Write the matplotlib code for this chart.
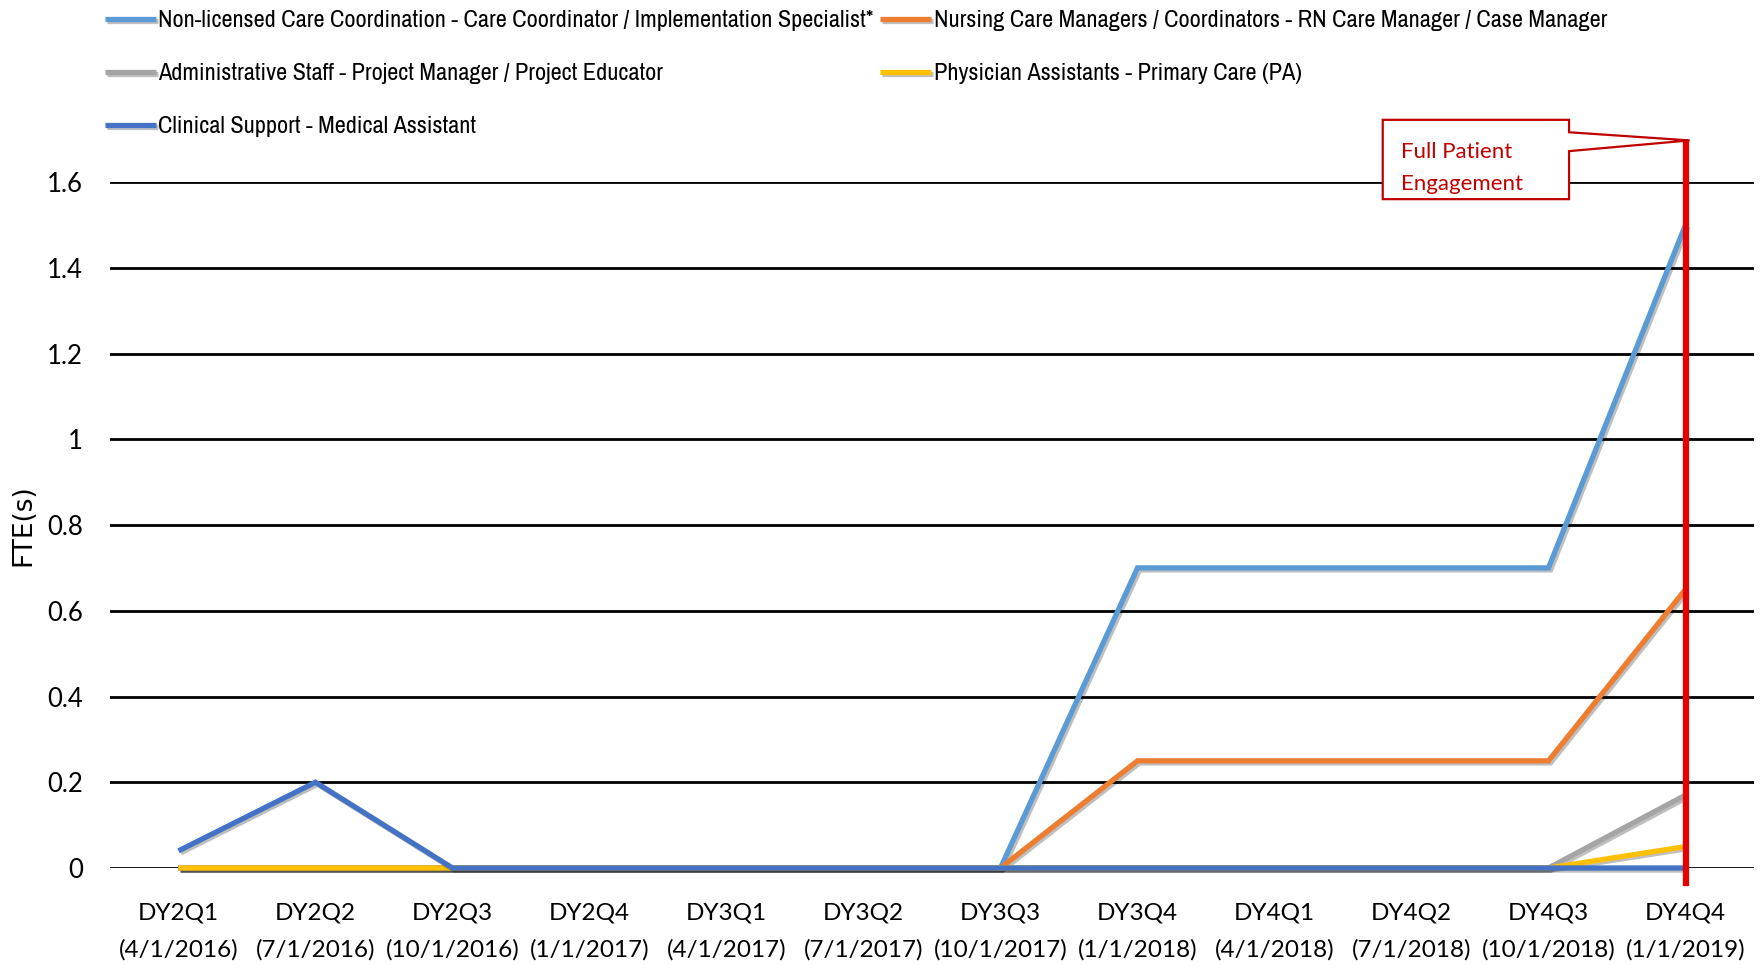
import matplotlib
matplotlib.use('Agg')
import matplotlib.pyplot as plt
import matplotlib.patheffects as pe
from matplotlib import font_manager
from matplotlib.patches import Polygon

quarters = ['DY2Q1', 'DY2Q2', 'DY2Q3', 'DY2Q4', 'DY3Q1', 'DY3Q2',
            'DY3Q3', 'DY3Q4', 'DY4Q1', 'DY4Q2', 'DY4Q3', 'DY4Q4']
dates = ['(4/1/2016)', '(7/1/2016)', '(10/1/2016)', '(1/1/2017)', '(4/1/2017)', '(7/1/2017)',
         '(10/1/2017)', '(1/1/2018)', '(4/1/2018)', '(7/1/2018)', '(10/1/2018)', '(1/1/2019)']

non_licensed = [0, 0, 0, 0, 0, 0, 0, 0.7, 0.7, 0.7, 0.7, 1.5]
nursing = [0, 0, 0, 0, 0, 0, 0, 0.25, 0.25, 0.25, 0.25, 0.65]
admin = [0, 0, 0, 0, 0, 0, 0, 0, 0, 0, 0, 0.17]
physician = [0, 0, 0, 0, 0, 0, 0, 0, 0, 0, 0, 0.05]
clinical = [0.04, 0.2, 0, 0, 0, 0, 0, 0, 0, 0, 0, 0]

series = [
    ('Non-licensed Care Coordination - Care Coordinator / Implementation Specialist*', non_licensed, '#5B9BD5'),
    ('Nursing Care Managers / Coordinators - RN Care Manager / Case Manager', nursing, '#ED7D31'),
    ('Administrative Staff - Project Manager / Project Educator', admin, '#A5A5A5'),
    ('Physician Assistants - Primary Care (PA)', physician, '#FFC000'),
    ('Clinical Support - Medical Assistant', clinical, '#4472C4'),
]


def is_plain(f):
    return f.style == 'normal' and f.weight in (400, 'normal', 'regular')


# look for an upright narrow face for the legend (Calibri-like look)
narrow = None
for f in font_manager.fontManager.ttflist:
    if ('Narrow' in f.name or 'Condensed' in f.name) and is_plain(f) \
            and 'Italic' not in f.fname and 'Oblique' not in f.fname:
        narrow = font_manager.FontProperties(fname=f.fname)
        break
if narrow is None:
    for f in font_manager.fontManager.ttflist:
        if f.stretch in ('condensed', 'semi-condensed', 'extra-condensed') and is_plain(f) \
                and 'Italic' not in f.fname and 'Oblique' not in f.fname:
            narrow = font_manager.FontProperties(fname=f.fname)
            break
if narrow is None:
    narrow = font_manager.FontProperties(family='Lato')

fig = plt.figure(figsize=(17.62, 9.71), dpi=100)
ax = fig.add_axes([110 / 1762, 103 / 971, 1644 / 1762, 686 / 971])

# size the legend font so the longest label spans ~716 px like the reference
renderer = fig.canvas.get_renderer()
probe = fig.text(0, 0, series[0][0], fontproperties=narrow, fontsize=16)
w = probe.get_window_extent(renderer).width
probe.remove()
leg_size = min(17.5, 16 * 716 / w)
narrow_leg = narrow.copy()
narrow_leg.set_size(leg_size)

x = list(range(len(quarters)))
shadow = [pe.SimpleLineShadow(offset=(1.5, -1.5), shadow_color='black', alpha=0.25), pe.Normal()]
handles = {}
for name, vals, col in series:
    ln, = ax.plot(x, vals, color=col, lw=3.8, label=name, clip_on=False,
                  solid_capstyle='butt', solid_joinstyle='miter', path_effects=shadow, zorder=3)
    handles[name] = ln

ax.set_xlim(-0.5, len(quarters) - 0.5)
ax.set_ylim(0, 1.6)
ax.set_yticks([0, 0.2, 0.4, 0.6, 0.8, 1, 1.2, 1.4, 1.6])
ax.set_yticklabels(['0', '0.2', '0.4', '0.6', '0.8', '1', '1.2', '1.4', '1.6'],
                   fontsize=18.5, family='Lato')
ax.set_xticks(x)
ax.set_xticklabels([q + '\n' + d for q, d in zip(quarters, dates)], fontsize=17.5,
                   family='Lato', linespacing=1.85)
ax.tick_params(length=0)
ax.tick_params(axis='x', pad=25)
ax.tick_params(axis='y', pad=19.5)
ax.grid(axis='y', color='black', lw=2, zorder=1)
ax.set_axisbelow(True)
for s in ax.spines.values():
    s.set_visible(False)
ax.set_ylabel('FTE(s)', fontsize=19, family='DejaVu Sans')
ax.yaxis.set_label_coords(-0.045, 0.5)

# marker for full patient engagement
last = len(quarters) - 1
ax.plot([last, last], [-0.035, 1.69], color='#E60000', lw=4.5, clip_on=False, zorder=5)
callout = Polygon([(8.79, 1.56), (10.15, 1.56), (10.15, 1.672), (11.03, 1.697),
                   (10.15, 1.716), (10.15, 1.745), (8.79, 1.745)],
                  closed=True, facecolor='white', edgecolor='#C00000', lw=1.6,
                  clip_on=False, zorder=6)
ax.add_patch(callout)
ax.text(8.92, 1.632, 'Full Patient\nEngagement', color='#C00000', fontsize=16,
        family='Lato', va='center', ha='left', linespacing=1.75, zorder=7)

order = [series[0][0], series[2][0], series[4][0], series[1][0], series[3][0]]
fig.legend([handles[n] for n in order], order, loc='upper left',
           bbox_to_anchor=(105 / 1762, 1 - 10 / 971), ncol=2, frameon=False,
           prop=narrow_leg,
           handlelength=2.1, handletextpad=0.1, columnspacing=0.25,
           labelspacing=1.32, borderpad=0, borderaxespad=0)

fig.savefig('out.png', dpi=100)
